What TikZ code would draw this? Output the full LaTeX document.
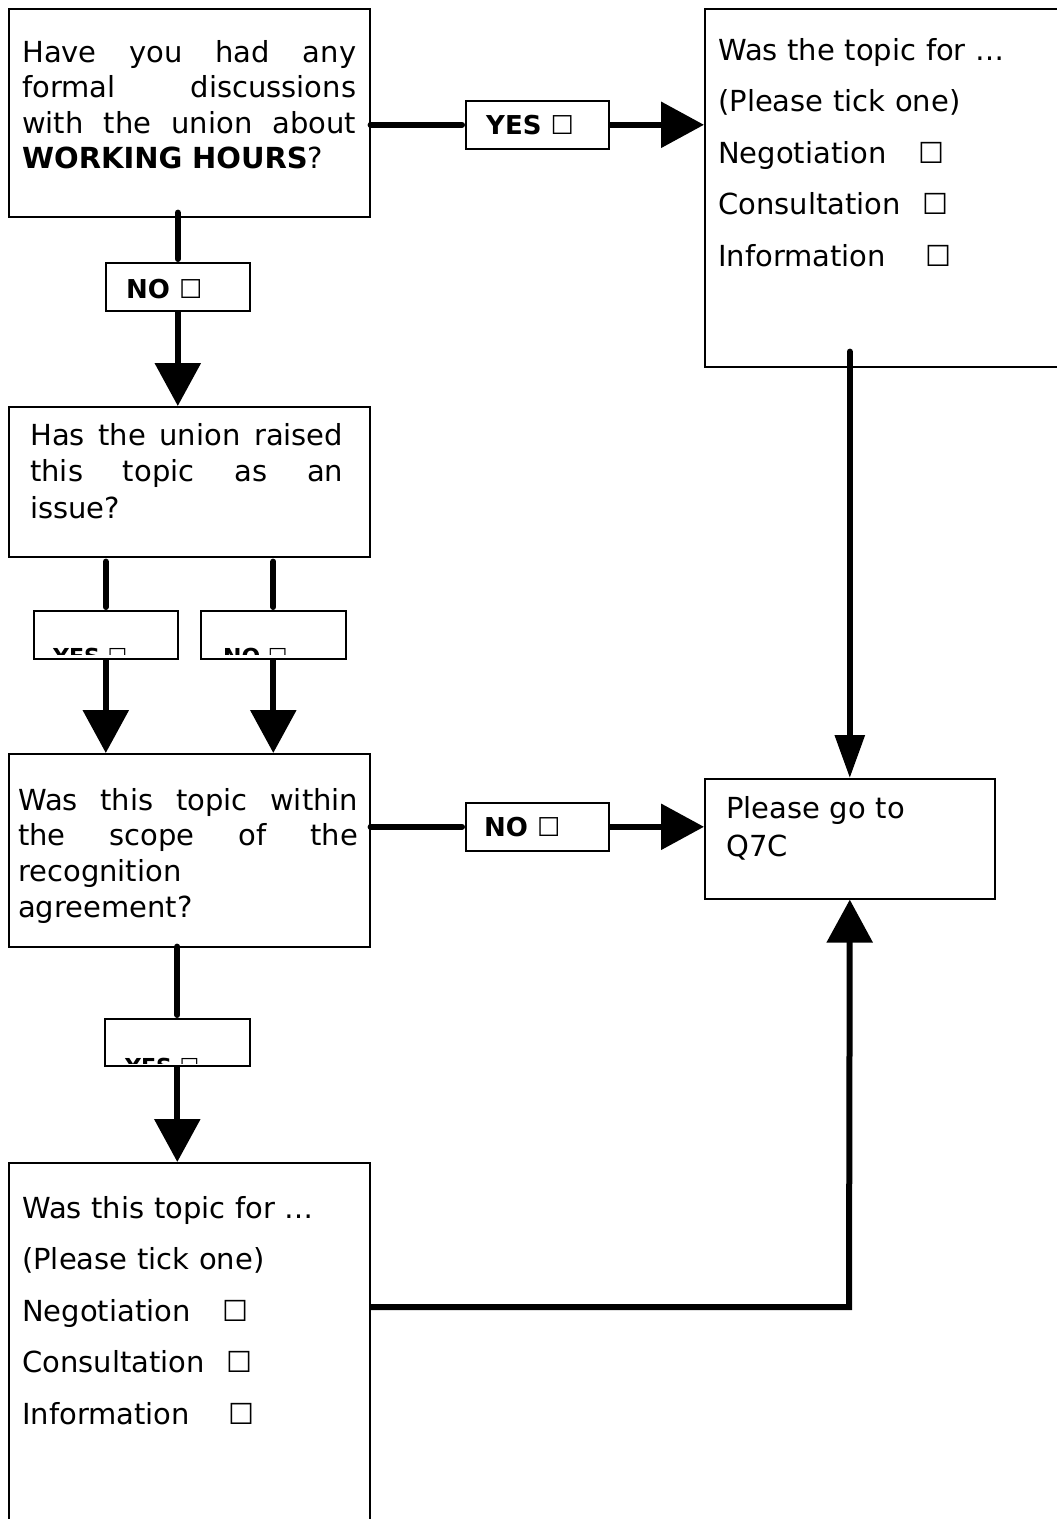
\documentclass[tikz,border=0pt]{standalone}
\usepackage{fontspec}
\setmainfont{DejaVu Sans}
\usetikzlibrary{arrows.meta,calc}
\newcommand{\jl}[2]{\leavevmode\hbox to #1{\spaceskip=0.3em plus 1fil\relax #2}}
\newcommand{\bx}{{\mdseries ☐}}
\begin{document}
\begin{tikzpicture}[x=1pt,y=-1pt,
  qbox/.style={draw, line width=1.6pt, inner sep=0pt, anchor=north west},
  optbox/.style={draw, line width=1.6pt, inner sep=0pt, anchor=north west, minimum width=144pt, minimum height=48pt},
  qtext/.style={inner sep=0pt, anchor=base west, align=left, font=\fontsize{29}{35.5}\selectfont},
  listtext/.style={inner sep=0pt, anchor=base west, align=left, text width=320pt, font=\fontsize{29}{51.6}\selectfont},
  opttext/.style={inner sep=0pt, anchor=base west, font=\fontsize{26}{30}\selectfont\bfseries},
  cliptext/.style={inner sep=0pt, anchor=base west, font=\fontsize{22}{26}\selectfont\bfseries},
  conn/.style={line width=6pt},
  capstart/.style={line cap=round, shorten >=3pt},
  bigtip/.style={-{Triangle[width=45pt,length=43pt]}},
  thintip/.style={-{Triangle[width=29pt,length=43pt]}}]
\useasboundingbox (0,0) rectangle (1057,1519);
\clip (0,0) rectangle (1057,1519);

% question boxes
\node[qbox, minimum width=361pt, minimum height=208pt] (b1) at (8,8) {};
\node[qbox, minimum width=366pt, minimum height=358pt] (b2) at (704,8) {};
\node[qbox, minimum width=361pt, minimum height=150pt] (b3) at (8,406) {};
\node[qbox, minimum width=361pt, minimum height=193pt] (b4) at (8,753) {};
\node[qbox, minimum width=290pt, minimum height=120pt] (q7) at (704,778) {};
\node[qbox, minimum width=361pt, minimum height=378pt] (b5) at (8,1162) {};

% option boxes
\node[optbox, minimum width=143pt] (y1) at (465,100) {};
\node[optbox] (n1) at (105,262) {};
\node[optbox] (l2y) at (33,610) {};
\node[optbox, minimum width=145pt] (l2n) at (200,610) {};
\node[optbox, minimum width=143pt] (n2) at (465,802) {};
\node[optbox, minimum width=145pt, minimum height=47pt] (l4) at (104,1018) {};

% texts
\node[qtext, text width=334pt] (t1) at (22,62)
  {\jl{334pt}{Have you had any}\\\jl{334pt}{formal discussions}\\\jl{334pt}{with the union about}\\\textbf{WORKING HOURS}?};
\node[listtext] (t2) at (718,60)
  {Was the topic for …\\(Please tick one)\\\makebox[200pt][l]{Negotiation}\bx\\\makebox[204pt][l]{Consultation}\bx\\\makebox[207pt][l]{Information}\bx};
\node[qtext, text width=313pt, font=\fontsize{29}{36.5}\selectfont] (t3) at (30,445)
  {\jl{313pt}{Has the union raised}\\\jl{313pt}{this topic as an}\\issue?};
\node[qtext, text width=340pt, font=\fontsize{29}{35.7}\selectfont] (t4) at (18,810)
  {\jl{340pt}{Was this topic within}\\\jl{340pt}{the scope of the}\\recognition\\agreement?};
\node[qtext, text width=250pt, font=\fontsize{29}{38}\selectfont] (tq) at (726,818)
  {Please go to\\Q7C};
\node[listtext] (t5) at (22,1218)
  {Was this topic for …\\(Please tick one)\\\makebox[200pt][l]{Negotiation}\bx\\\makebox[204pt][l]{Consultation}\bx\\\makebox[206pt][l]{Information}\bx};

\node[opttext] (y1t) at (486,134) {YES \bx};
\node[opttext] (n1t) at (126,298) {NO \bx};
\node[opttext] (n2t) at (484,836) {NO \bx};

% clipped option labels
\begin{scope}
  \clip ($(l2y.north west)+(2,2)$) rectangle ($(l2y.south east)+(-2,-5)$);
  \node[cliptext] (l2yt) at (53,664) {YES \bx};
\end{scope}
\begin{scope}
  \clip ($(l2n.north west)+(2,2)$) rectangle ($(l2n.south east)+(-2,-5)$);
  \node[cliptext] (l2nt) at (223,664) {NO \bx};
\end{scope}
\begin{scope}
  \clip ($(l4.north west)+(2,2)$) rectangle ($(l4.south east)+(-2,-3)$);
  \node[cliptext] (l4t) at (125,1074) {YES \bx};
\end{scope}

% connectors
\draw[conn, capstart] (b1.east |- y1.west) -- (y1.west);
\draw[conn, bigtip] (y1.east) -- (b2.west |- y1.east);
\draw[conn, capstart] ($(n1.north |- b1.south)+(0,-5)$) -- (n1.north);
\draw[conn, bigtip] (n1.south) -- (n1.south |- b3.north);
\draw[conn, capstart] ($(l2y.north |- b3.south)+(0,4)$) -- (l2y.north);
\draw[conn, bigtip] (l2y.south) -- (l2y.south |- b4.north);
\draw[conn, capstart] ($(l2n.north |- b3.south)+(0,4)$) -- (l2n.north);
\draw[conn, bigtip] (l2n.south) -- (l2n.south |- b4.north);
\draw[conn, capstart] (b4.east |- n2.west) -- (n2.west);
\draw[conn, bigtip] (n2.east) -- (q7.west |- n2.east);
\draw[conn, capstart] ($(l4.north |- b4.south)+(0,-1)$) -- (l4.north);
\draw[conn, bigtip] (l4.south) -- (l4.south |- b5.north);
\draw[conn, line cap=round, thintip] ($(q7.north |- b2.south)+(0,-16)$) -- (q7.north);
\coordinate (elbow) at (849,1307);
\draw[conn, bigtip] (b5.east |- elbow) -- (elbow) -- (q7.south);
\end{tikzpicture}
\end{document}
